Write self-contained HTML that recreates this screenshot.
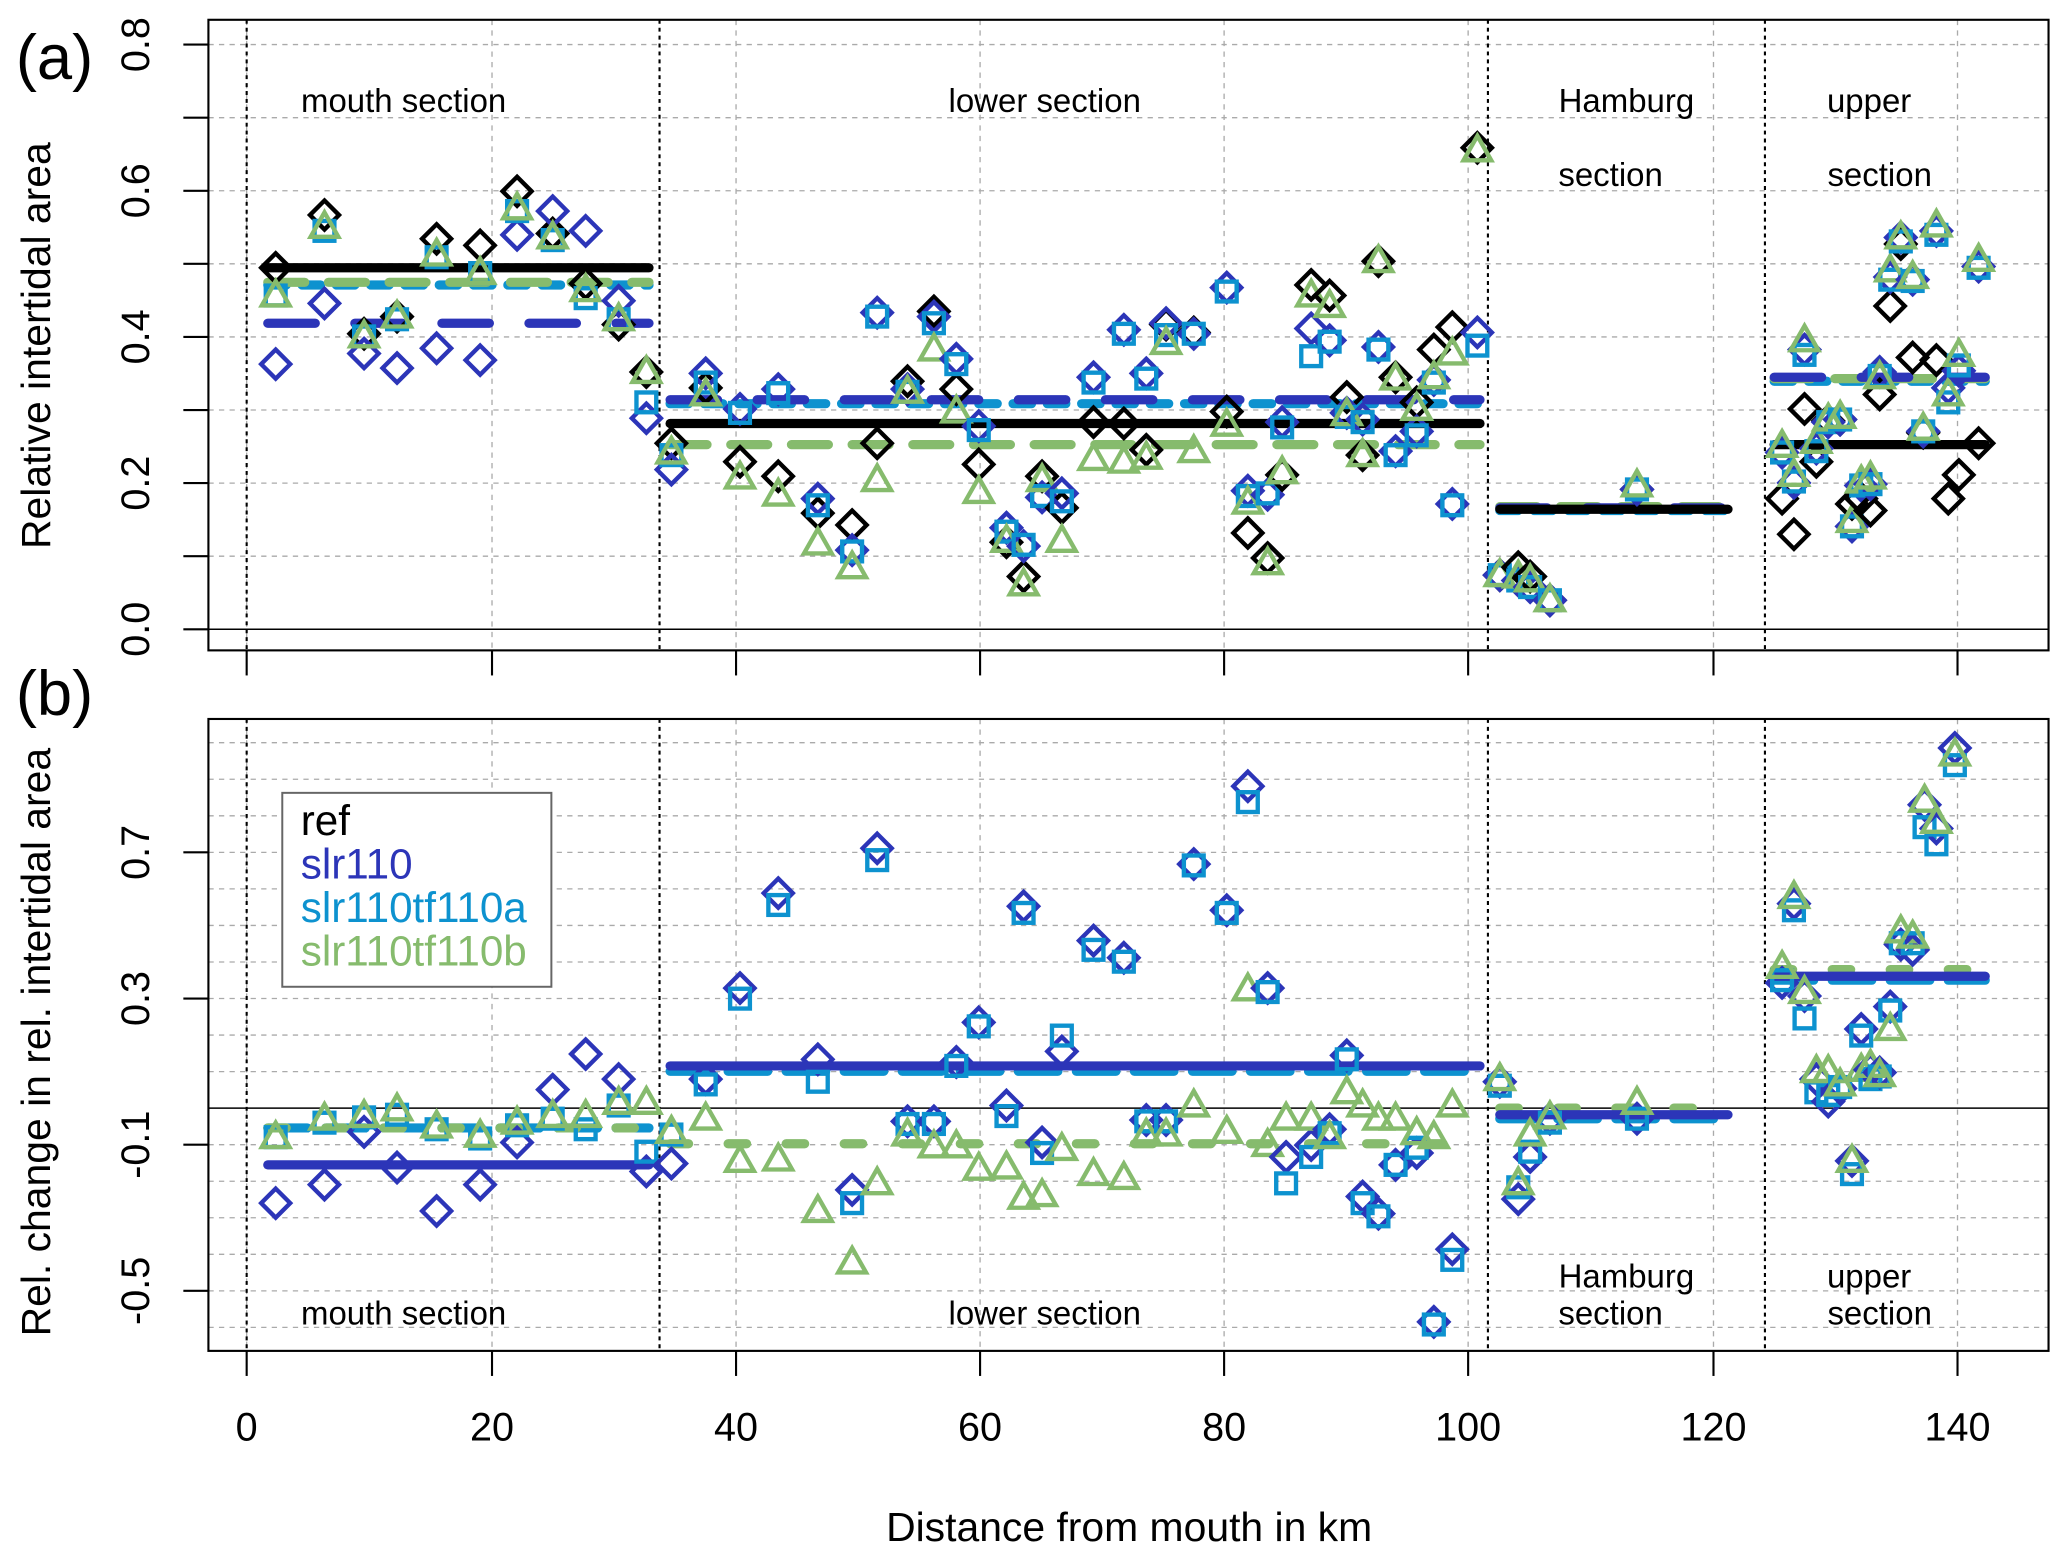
<!DOCTYPE html>
<html><head><meta charset="utf-8"><style>
html,body{margin:0;padding:0;background:#fff;}
svg{display:block;font-family:"Liberation Sans",Arial,sans-serif;}
</style></head><body>
<svg id="s" width="2067" height="1558" viewBox="0 0 1567 1181" preserveAspectRatio="none" xmlns="http://www.w3.org/2000/svg">
<rect width="1567" height="1181" fill="#fff"/>
<g id="grid" stroke="#aaa" stroke-width="1" stroke-dasharray="4,4" fill="none"></g>
<g id="sec" stroke="#000" stroke-width="1.6" stroke-dasharray="3,3" fill="none">
<line x1="187" y1="15" x2="187" y2="493"/><line x1="500" y1="15" x2="500" y2="493"/><line x1="1128" y1="15" x2="1128" y2="493"/><line x1="1338" y1="15" x2="1338" y2="493"/>
<line x1="187" y1="545" x2="187" y2="1024"/><line x1="500" y1="545" x2="500" y2="1024"/><line x1="1128" y1="545" x2="1128" y2="1024"/><line x1="1338" y1="545" x2="1338" y2="1024"/>
</g>
<line x1="158" y1="477" x2="1553" y2="477" stroke="#000" stroke-width="1.2"/>
<line x1="158" y1="840" x2="1553" y2="840" stroke="#000" stroke-width="1.2"/>
<g id="means"></g>
<g id="pts" fill="none" stroke-width="3.3"></g>
<rect x="158" y="15" width="1395" height="478" fill="none" stroke="#000" stroke-width="1.6"/>
<rect x="158" y="545" width="1395" height="479" fill="none" stroke="#000" stroke-width="1.6"/>
<g id="ticks" stroke="#000" stroke-width="1.6"></g>
<g font-size="25" fill="#000">
<text x="306" y="85" text-anchor="middle">mouth section</text>
<text x="792" y="85" text-anchor="middle">lower section</text>
<text x="1233" y="85" text-anchor="middle">Hamburg</text>
<text x="1221" y="141" text-anchor="middle">section</text>
<text x="1417" y="85" text-anchor="middle">upper</text>
<text x="1425" y="141" text-anchor="middle">section</text>
<text x="306" y="1004" text-anchor="middle">mouth section</text>
<text x="792" y="1004" text-anchor="middle">lower section</text>
<text x="1233" y="976" text-anchor="middle">Hamburg</text>
<text x="1221" y="1004" text-anchor="middle">section</text>
<text x="1417" y="976" text-anchor="middle">upper</text>
<text x="1425" y="1004" text-anchor="middle">section</text>
</g>
<text x="12" y="60" font-size="48">(a)</text>
<text x="12" y="542" font-size="48">(b)</text>
<text transform="translate(38,262) rotate(-90)" font-size="31" text-anchor="middle">Relative intertidal area</text>
<text transform="translate(38,790) rotate(-90)" font-size="31" text-anchor="middle">Rel. change in rel. intertidal area</text>
<text x="856" y="1168" font-size="31" text-anchor="middle">Distance from mouth in km</text>
<g font-size="30" id="lab"></g>
<rect x="214" y="601" width="204" height="147" fill="#fff" stroke="#666" stroke-width="1.5"/>
<g font-size="32">
<text x="228" y="633" fill="#000">ref</text>
<text x="228" y="666" fill="#2c35b8">slr110</text>
<text x="228" y="699" fill="#0d92cf">slr110tf110a</text>
<text x="228" y="732" fill="#86bb6d">slr110tf110b</text>
</g>
</svg>
<script>
var NS="http://www.w3.org/2000/svg";
function el(p,t,a,txt){var e=document.createElementNS(NS,t);for(var k in a)e.setAttribute(k,a[k]);if(txt!==undefined)e.textContent=txt;document.getElementById(p).appendChild(e);return e;}
var C={k:"#000",b:"#2c35b8",c:"#0d92cf",g:"#86bb6d"};
var gx=[187,373,558,743,928,1113,1299,1484];
gx.forEach(function(x){el("grid","line",{x1:x,y1:15,x2:x,y2:493});el("grid","line",{x1:x,y1:545,x2:x,y2:1024});});
for(var k=0;k<=8;k++){var y=477-55.4*k;el("grid","line",{x1:158,y1:y,x2:1553,y2:y});}
for(var v=-6;v<=10;v++){if(v==0)continue;var y=840-27.7*v;if(y<548||y>1022)continue;el("grid","line",{x1:158,y1:y,x2:1553,y2:y});}
for(var k=0;k<=8;k++){var y=477-55.4*k;el("ticks","line",{x1:139,y1:y,x2:158,y2:y});
 if(k%2==0){el("lab","text",{transform:"translate(113,"+y+") rotate(-90)","text-anchor":"middle"},(k/10).toFixed(1));}}
[0.7,0.3,-0.1,-0.5].forEach(function(v){var y=840-277*v;el("ticks","line",{x1:139,y1:y,x2:158,y2:y});el("lab","text",{transform:"translate(113,"+y+") rotate(-90)","text-anchor":"middle"},v.toFixed(1));});
gx.forEach(function(x,i){el("ticks","line",{x1:x,y1:493,x2:x,y2:512});el("ticks","line",{x1:x,y1:1024,x2:x,y2:1043});el("lab","text",{x:x,y:1092,"text-anchor":"middle"},String(i*20));});
function ml(x1,x2,y,col,w,dash){var a={x1:x1,x2:x2,y1:y,y2:y,stroke:col,"stroke-width":w,"stroke-linecap":"round"};if(dash)a["stroke-dasharray"]=dash;el("means","line",a);}
var sec=[[203,492],[508,1122],[1137,1310],[1345,1505]];
var ma={k:[203,321,386,337],b:[245,303,385,286],c:[216,306,387,289],g:[214,337,384,287]};
var mb={b:[883,808,845,740],c:[855,812,848,743],g:[855,867,840,735]};
sec.forEach(function(s,i){
 ml(s[0],s[1],ma.c[i],C.c,7,"14,12");ml(s[0],s[1],ma.g[i],C.g,7,"28,18");ml(s[0],s[1],ma.b[i],C.b,7,"36,30");ml(s[0],s[1],ma.k[i],C.k,7);
 ml(s[0],s[1],mb.c[i],C.c,7,"30,14");ml(s[0],s[1],mb.g[i],C.g,7,"14,30");ml(s[0],s[1],mb.b[i],C.b,7);
});
var A=[[209,203,276,224,224],[246,163,230,175,172],[276,253,268,255,255],[301,240,279,242,240],[331,181,264,195,193],[364,186,273,207,207],[392,145,178,160,158],[419,177,160,182,180],[444,215,175,226,220],[469,246,228,242,242],[490,282,317,305,282],
[509,336,356,345,343],[535,294,283,290,299],[561,350,310,313,362],[590,361,295,298,375],[620,389,378,383,412],[646,398,417,418,430],[665,336,237,240,364],[688,289,295,297,297],[708,236,240,245,265],[725,295,272,276,312],[742,352,323,326,373],[763,411,400,403,410],[776,437,414,413,443],[790,361,377,376,364],[805,385,374,380,410],[829,320,286,290,348],[852,321,250,253,350],[869,341,283,287,347],[884,246,245,254,260],[905,252,253,253,342],[930,312,218,221,322],[946,404,372,376,381],[961,423,375,374,427],[972,360,320,324,358],[994,216,249,270,224],[1008,224,258,259,232],[1021,301,313,316,314],[1033,345,318,320,345],[1045,198,263,265,198],[1058,286,342,345,287],[1074,305,327,330,310],[1087,265,288,290,286],[1101,248,382,383,268],[1120,112,252,262,114],
[1137,436,436,436,436],[1151,430,440,440,437],[1160,437,445,445,440],[1175,455,455,455,455],[1241,371,371,371,368],
[1351,378,343,343,338],[1360,405,366,365,360],[1368,310,265,269,258],[1377,350,340,342,335],[1386,319,320,320,318],[1395,318,318,318,316],[1404,382,399,399,395],[1411,378,368,368,365],[1418,387,367,367,362],[1425,299,282,285,286],[1433,232,210,212,205],[1441,185,180,183,180],[1450,271,212,213,210],[1458,328,327,327,325],[1468,273,175,178,171],[1477,378,294,305,299],[1485,360,281,277,269],[1500,336,202,203,197]];
var B=[[209,912,862,862],[246,898,851,848],[276,858,847,846],[301,885,845,841],[331,918,856,854],[364,898,863,861],[392,866,853,851],[419,826,848,846],[444,799,856,846],[469,818,838,836],[490,888,873,836],
[509,882,860,858],[535,818,822,848],[561,749,757,880],[590,677,686,879],[620,803,820,918],[646,902,912,957],[665,643,652,897],[688,850,852,860],[708,850,852,869],[725,805,808,869],[742,775,778,886],[763,838,846,885],[776,687,692,908],[790,866,874,906],[805,797,785,871],[829,713,720,890],[852,726,729,893],[869,849,850,860],[884,849,850,860],[905,655,656,838],[930,690,692,858],[946,596,608,750],[961,749,752,868],[975,877,897,848],[994,868,877,848],[1008,856,859,862],[1021,800,803,828],[1033,907,912,838],[1045,920,922,848],[1058,883,883,848],[1074,874,870,859],[1087,1002,1004,862],[1101,947,955,838],
[1137,820,823,818],[1151,909,900,897],[1160,877,873,860],[1175,848,851,847],[1241,848,848,836],
[1351,745,743,733],[1360,685,690,680],[1368,755,772,752],[1377,818,828,812],[1386,835,830,812],[1395,825,824,822],[1404,880,890,880],[1411,780,785,811],[1418,811,818,808],[1425,813,816,815],[1433,763,766,780],[1441,716,715,706],[1450,720,715,710],[1459,610,627,607],[1468,628,640,623],[1482,567,580,572]];
function dia(x,y,c){el("pts","polygon",{points:(x)+","+(y-11)+" "+(x+11)+","+y+" "+x+","+(y+11)+" "+(x-11)+","+y,stroke:c});}
function sq(x,y,c){el("pts","rect",{x:x-7.5,y:y-7.5,width:15,height:15,stroke:c});}
function tri(x,y,c){el("pts","polygon",{points:(x)+","+(y-11)+" "+(x+10.5)+","+(y+7.5)+" "+(x-10.5)+","+(y+7.5),stroke:c});}
A.forEach(function(p){dia(p[0],p[1],C.k);dia(p[0],p[2],C.b);sq(p[0],p[3],C.c);tri(p[0],p[4],C.g);});
B.forEach(function(p){dia(p[0],p[1],C.b);sq(p[0],p[2],C.c);tri(p[0],p[3],C.g);});
</script>
</body></html>
